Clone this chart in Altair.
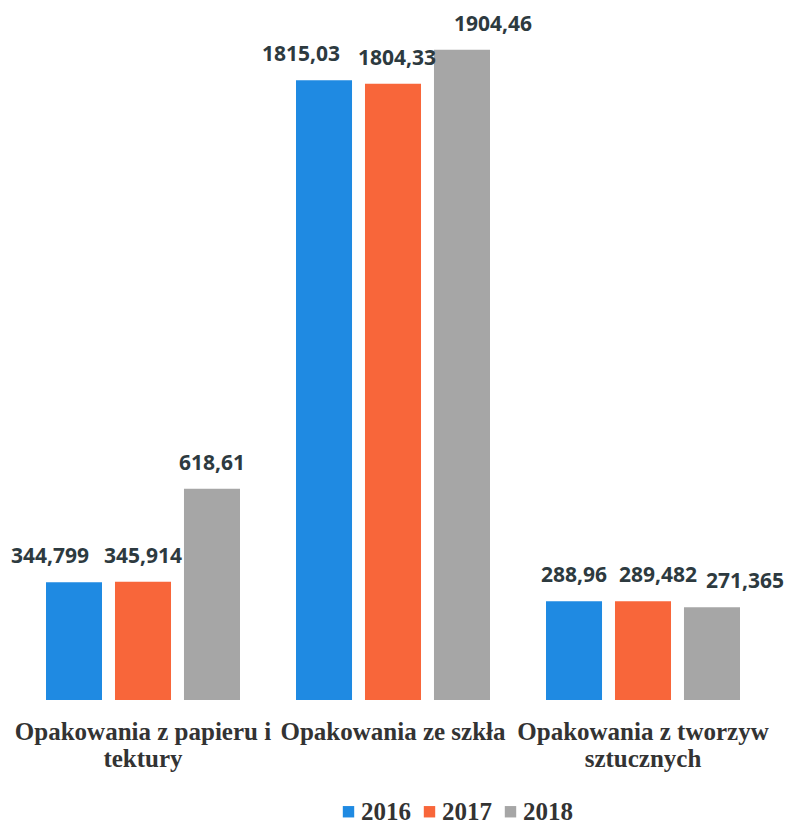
import altair as alt
import pandas as pd

categories = ["Opakowania z papieru i tektury", "Opakowania ze szkła", "Opakowania z tworzyw sztucznych"]
category_lines = [["Opakowania z papieru i", "tektury"], ["Opakowania ze szkła"], ["Opakowania z tworzyw", "sztucznych"]]
years = ["2016", "2017", "2018"]
values_2016 = [344.799, 1815.03, 288.96]
values_2017 = [345.914, 1804.33, 289.482]
values_2018 = [618.61, 1904.46, 271.365]
colors = ["#1F8AE2", "#F8663A", "#A6A6A6"]

# small horizontal shifts of value labels (as in the original, to avoid overlap)
label_dx = [[-24, 0, 0], [-23, 4, 31], [0, 15, 33]]

rows = []
for i, c in enumerate(categories):
    for j, (y, vals) in enumerate(zip(years, [values_2016, values_2017, values_2018])):
        v = vals[i]
        rows.append({"cat": c, "year": y, "value": v, "label": str(v).replace(".", ",")})
df = pd.DataFrame(rows)

label_expr = ""
for c, lines in zip(categories, category_lines):
    label_expr += f"datum.label == {c!r} ? {lines!r} : "
label_expr += "datum.label"

x = alt.X("cat:N", sort=categories, title=None,
          scale=alt.Scale(paddingInner=0.224, paddingOuter=0.112),
          axis=alt.Axis(labelAngle=0, domain=False, ticks=False, grid=False,
                        labelFont="Liberation Serif", labelFontWeight="bold",
                        labelFontSize=25, labelColor="#333333", labelLineHeight=27,
                        labelPadding=19, labelLimit=400, labelOverlap=False,
                        labelExpr=label_expr))
xo = alt.XOffset("year:N", sort=years, scale=alt.Scale(paddingInner=0.188, paddingOuter=0))
yenc = alt.Y("value:Q", scale=alt.Scale(domain=[0, 2000]), axis=None)

base = alt.Chart(df)
bars = base.mark_bar().encode(
    x=x, xOffset=xo, y=yenc,
    color=alt.Color("year:N", sort=years, scale=alt.Scale(domain=years, range=colors),
                    legend=alt.Legend(title=None, orient="none", legendX=318, legendY=782,
                                      direction="horizontal", symbolType="square",
                                      symbolSize=130, symbolStrokeWidth=0,
                                      labelFont="Liberation Serif", labelFontWeight="bold",
                                      labelFontSize=25, labelColor="#333333",
                                      columnPadding=6, labelOffset=0))
)

layers = [bars]
for i, c in enumerate(categories):
    for j, yv in enumerate(years):
        t = base.transform_filter(
            (alt.datum.cat == c) & (alt.datum.year == yv)
        ).mark_text(font="Open Sans", fontWeight="bold", fontSize=21, color="#2d3a3f",
                    baseline="alphabetic", dy=-19, dx=label_dx[i][j]).encode(
            x=x, xOffset=xo, y=yenc, text="label:N")
        layers.append(t)

chart = alt.layer(*layers).properties(
    width=750, height=683, background="white",
    autosize=alt.AutoSizeParams(type="none"),
    padding={"left": 10, "top": 9, "right": 17, "bottom": 124}
).configure_view(strokeWidth=0, stroke="transparent")

chart.save("out.html", embed_options={"renderer": "svg", "actions": False})
